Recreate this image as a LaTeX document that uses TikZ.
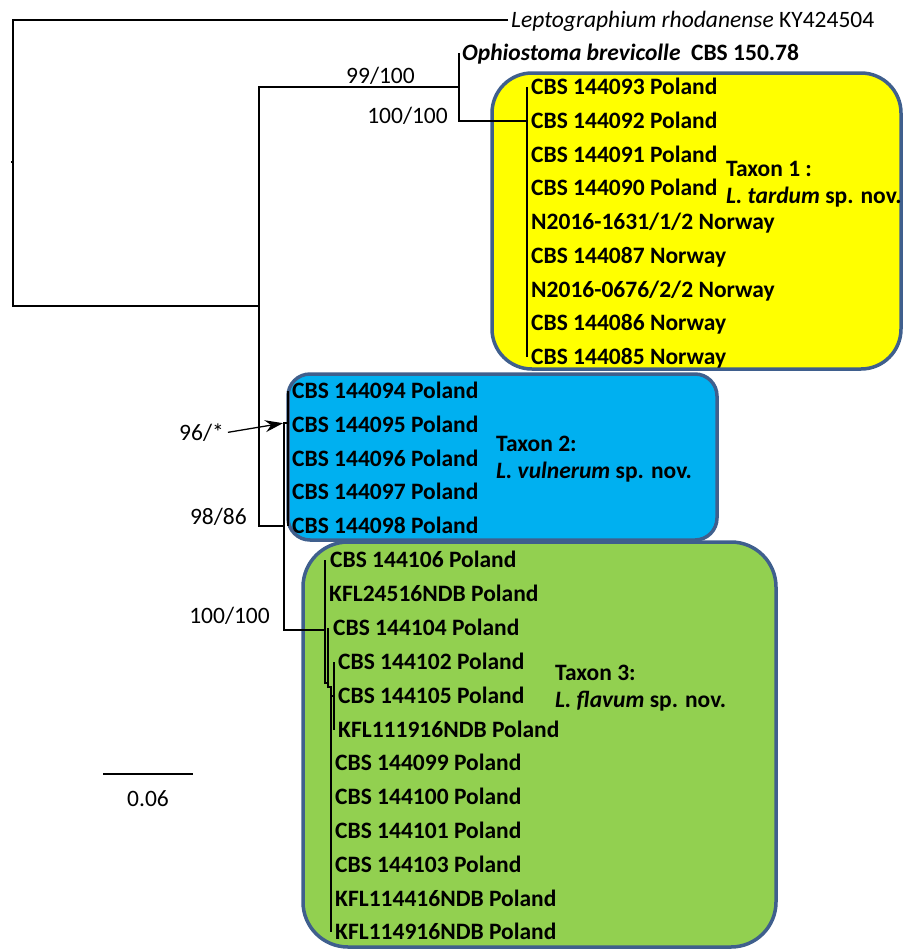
\documentclass[tikz,border=0pt]{standalone}
\usepackage{fontspec}
\setmainfont{Carlito}
\usetikzlibrary{positioning, arrows.meta, calc}
\definecolor{boxedge}{HTML}{3F5F8D}
\definecolor{taxonyellow}{HTML}{FFFF00}
\definecolor{taxonblue}{HTML}{00B0F0}
\definecolor{taxongreen}{HTML}{92D050}
\tikzset{
  branch/.style={draw=black, line width=1.2pt},
  tip/.style={anchor=west, inner sep=0, text height=20pt, text depth=5pt, font=\fontsize{23.5}{28}\selectfont\bfseries},
  outgroup/.style={anchor=west, inner sep=0, text height=20pt, text depth=5pt, font=\fontsize{23.5}{28}\selectfont},
  support/.style={anchor=east, inner sep=0, font=\fontsize{23.5}{28}\selectfont},
  taxonbox/.style={draw=boxedge, line width=3.5pt},
  taxonlabel/.style={anchor=west, align=left, inner sep=0, font=\fontsize{23.5}{27}\selectfont\bfseries},
  pointer/.style={-{Stealth[length=18pt, width=12pt, inset=6pt]}, line width=1.3pt, shorten <=4pt, shorten >=1pt}
}

\begin{document}
\begin{tikzpicture}[x=1pt, y=-1pt]
\useasboundingbox (0,0) rectangle (903,951);

% Clade boxes
\draw[taxonbox, fill=taxongreen, rounded corners=45pt] (303,542) rectangle (776,947);
\draw[taxonbox, fill=taxonblue, rounded corners=22pt] (288,374) rectangle (717,540);
\draw[taxonbox, fill=taxonyellow, rounded corners=40pt] (492,73) rectangle (901,369);

% Internal nodes
\coordinate (root) at (13,162);
\coordinate (n1) at (259,306);
\coordinate (n2) at (459,87);
\coordinate (n3) at (284,526);
\coordinate (t1) at (527,121);
\coordinate (t2) at (288,423);
\coordinate (t3) at (325,630);
\coordinate (t3b) at (328,683);
\coordinate (t3c) at (331,687);
\coordinate (t3d) at (334,696);

% Outgroups
\node[outgroup] (lep) at (511,20) {\textit{Leptographium rhodanense} KY424504};
\node[tip] (oph) at (462,53) {\textit{Ophiostoma brevicolle}\ \ CBS 150.78};

% Taxon 1
\foreach \ty/\name [count=\i] in {87/{CBS 144093 Poland}, 121/{CBS 144092 Poland},
    155/{CBS 144091 Poland}, 188/{CBS 144090 Poland}, 222/{N2016-1631/1/2 Norway},
    256/{CBS 144087 Norway}, 290/{N2016-0676/2/2 Norway}, 323/{CBS 144086 Norway},
    357/{CBS 144085 Norway}}
  \node[tip] (a\i) at (531,\ty) {\name};

% Taxon 2
\foreach \ty/\name [count=\i] in {391/{CBS 144094 Poland}, 425/{CBS 144095 Poland},
    459/{CBS 144096 Poland}, 492/{CBS 144097 Poland}, 526/{CBS 144098 Poland}}
  \node[tip] (b\i) at (292,\ty) {\name};

% Taxon 3
\foreach \tx/\ty/\name [count=\i] in {330/560/{CBS 144106 Poland}, 329/594/{KFL24516NDB Poland},
    333/628/{CBS 144104 Poland}, 338/662/{CBS 144102 Poland}, 338/696/{CBS 144105 Poland},
    338/730/{KFL111916NDB Poland}, 335/763/{CBS 144099 Poland}, 335/797/{CBS 144100 Poland},
    335/831/{CBS 144101 Poland}, 335/865/{CBS 144103 Poland}, 335/899/{KFL114416NDB Poland},
    335/932/{KFL114916NDB Poland}}
  \node[tip] (c\i) at (\tx,\ty) {\name};

% Branches
\draw[branch] ([xshift=-3pt]lep.west) -| (root) |- (n1);
\draw[branch] (root) -- ++(-2,0);
\draw[branch] (n2) -| (n1) |- (n3);
\draw[branch] ([xshift=-3pt]oph.west) -| (n2) |- (t1);
\draw[branch] (a1.west -| t1) -- (a9.west -| t1);
\draw[branch] (b1.west -| t2) -- (b5.west -| t2);
\draw[branch] (t2) -| (n3) |- (t3);
\draw[branch] (c1.west -| t3) -- (t3 |- t3b) -- (t3b) -- (c3.west -| t3b);
\draw[branch] (t3b) -- (t3b |- t3c) -- (t3c) -- (c12.west -| t3c);
\draw[branch] (t3c |- t3d) -- (t3d);
\draw[branch] (c4.west -| t3d) -- (c6.west -| t3d);

% Support values
\node[support] (s1) at (415,76) {99/100};
\node[support] (s2) at (448,116) {100/100};
\node[support] (s3) at (224,433) {96/*};
\node[support] (s4) at (247,517) {98/86};
\node[support] (s5) at (270,616) {100/100};
\draw[pointer] (s3.east) -- (t2 -| n3);

% Taxon names
\node[taxonlabel] (tx1) at (726,184) {Taxon 1 :\\\textit{L. tardum} sp. nov.};
\node[taxonlabel] (tx2) at (496,459) {Taxon 2:\\\textit{L. vulnerum} sp. nov.};
\node[taxonlabel] (tx3) at (555,688) {Taxon 3:\\\textit{L. flavum} sp. nov.};

% Scale bar
\coordinate (sbl) at (103,774);
\coordinate (sbr) at (193,774);
\draw[branch] (sbl) -- (sbr);
\node[support, below=16pt of {$(sbl)!0.5!(sbr)$}] (scale) {0.06};

\end{tikzpicture}
\end{document}
